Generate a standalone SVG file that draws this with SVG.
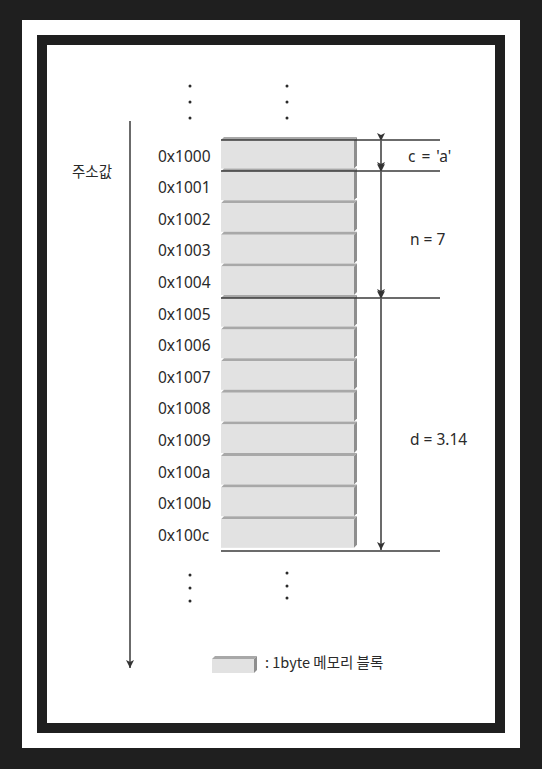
<svg xmlns="http://www.w3.org/2000/svg" width="542" height="769" viewBox="0 0 542 769">
<style>
.t{font-family:"Noto Sans","Noto Sans CJK KR",sans-serif;font-size:15.5px;fill:#2a2a2a}
.k{font-family:"Noto Sans CJK KR",sans-serif;font-size:14.5px;fill:#2a2a2a}
.face{fill:#e2e2e2}
.top{fill:#a8a8a8}
.side{fill:#8e8e8e}
.ln{stroke:#3a3a3a;stroke-width:1.5;fill:none}
.dot{fill:#2a2a2a}
</style>
<defs>
<marker id="ah" markerWidth="8" markerHeight="10" refX="8" refY="5" orient="auto" markerUnits="userSpaceOnUse">
<path d="M0,1 L8,5 L0,9 L2,5 Z" fill="#333"/>
</marker>
<g id="blk">
<polygon class="top" points="0,3 3,0 136,0 133,3"/>
<rect class="face" x="0" y="3" width="133" height="28.6"/>
<polygon class="side" points="133,3 136,0 136,28.6 133,31.6"/>
</g>
</defs>
<rect width="542" height="769" fill="#1f1f1f"/>
<rect x="22" y="20" width="498" height="728" fill="#fff"/>
<rect x="37" y="35" width="468" height="698" fill="#1f1f1f"/>
<rect x="47" y="45" width="448" height="678" fill="#fff"/>

<g id="dots">
<circle class="dot" cx="190" cy="86" r="1.5"/><circle class="dot" cx="190" cy="102" r="1.5"/><circle class="dot" cx="190" cy="118" r="1.5"/>
<circle class="dot" cx="287" cy="86" r="1.5"/><circle class="dot" cx="287" cy="102" r="1.5"/><circle class="dot" cx="287" cy="118" r="1.5"/>
<circle class="dot" cx="190" cy="575" r="1.5"/><circle class="dot" cx="190" cy="588" r="1.5"/><circle class="dot" cx="190" cy="601" r="1.5"/>
<circle class="dot" cx="287" cy="573" r="1.5"/><circle class="dot" cx="287" cy="586" r="1.5"/><circle class="dot" cx="287" cy="598" r="1.5"/>
</g>

<text class="k" x="72" y="177">주소값</text>

<g id="b0"><use href="#blk" x="221" y="137"/><text class="t" x="158" y="162">0x1000</text></g>
<g id="b1"><use href="#blk" x="221" y="168.6"/><text class="t" x="158" y="193">0x1001</text></g>
<g id="b2"><use href="#blk" x="221" y="200.2"/><text class="t" x="158" y="225">0x1002</text></g>
<g id="b3"><use href="#blk" x="221" y="231.8"/><text class="t" x="158" y="256">0x1003</text></g>
<g id="b4"><use href="#blk" x="221" y="263.4"/><text class="t" x="158" y="288">0x1004</text></g>
<g id="b5"><use href="#blk" x="221" y="295"/><text class="t" x="158" y="320">0x1005</text></g>
<g id="b6"><use href="#blk" x="221" y="326.6"/><text class="t" x="158" y="351">0x1006</text></g>
<g id="b7"><use href="#blk" x="221" y="358.2"/><text class="t" x="158" y="383">0x1007</text></g>
<g id="b8"><use href="#blk" x="221" y="389.8"/><text class="t" x="158" y="414">0x1008</text></g>
<g id="b9"><use href="#blk" x="221" y="421.4"/><text class="t" x="158" y="446">0x1009</text></g>
<g id="b10"><use href="#blk" x="221" y="453"/><text class="t" x="158" y="478">0x100a</text></g>
<g id="b11"><use href="#blk" x="221" y="484.6"/><text class="t" x="158" y="509">0x100b</text></g>
<g id="b12"><use href="#blk" x="221" y="516.2"/><text class="t" x="158" y="541">0x100c</text></g>

<g id="labels">
<text class="t" x="408" y="162" word-spacing="2">c = 'a'</text>
<text class="t" x="410" y="245">n = 7</text>
<text class="t" x="410" y="445">d = 3.14</text>
</g>

<g id="legend">
<polygon class="top" points="212,659 215,656 257,656 254,659"/>
<rect class="face" x="212" y="659" width="42" height="14"/>
<polygon class="side" points="254,659 257,656 257,670 254,673"/>
<text class="k" x="265" y="668">: 1byte 메모리 블록</text>
</g>

<g id="connectors">
<line class="ln" x1="221" y1="140" x2="440" y2="140"/>
<line class="ln" x1="221" y1="171" x2="440" y2="171"/>
<line class="ln" x1="221" y1="298" x2="440" y2="298"/>
<line class="ln" x1="221" y1="551" x2="440" y2="551"/>
<line class="ln" x1="381" y1="141" x2="381" y2="170" marker-start="url(#ah)" marker-end="url(#ah)"/>
<line class="ln" x1="381" y1="172" x2="381" y2="297" marker-start="url(#ah)" marker-end="url(#ah)"/>
<line class="ln" x1="381" y1="299" x2="381" y2="550" marker-start="url(#ah)" marker-end="url(#ah)"/>
<line class="ln" x1="130" y1="121" x2="130" y2="668" marker-end="url(#ah)"/>
</g>
</svg>
